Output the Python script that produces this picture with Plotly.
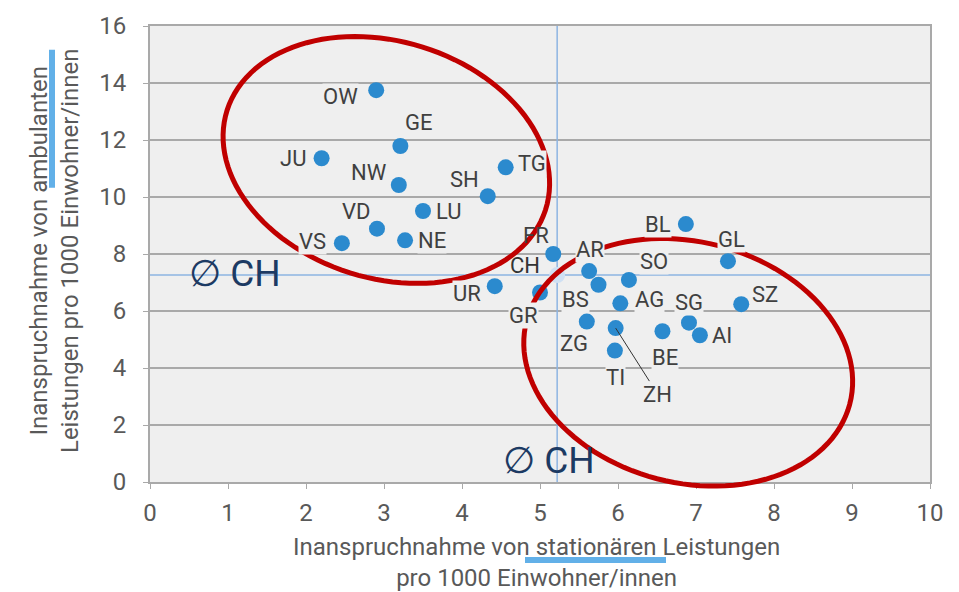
import math
import plotly.graph_objects as go

# ---------------- data ----------------
cantons = ["OW", "GE", "JU", "NW", "TG", "SH", "LU", "VD", "VS", "NE",
           "FR", "UR", "GR", "AR", "BS", "SO", "BL", "GL", "SZ", "AG",
           "SG", "AI", "BE", "ZH", "TI", "ZG"]
stationaer = [2.90, 3.21, 2.20, 3.19, 4.56, 4.33, 3.50, 2.91, 2.46, 3.27,
              5.17, 4.42, 5.00, 5.63, 5.75, 6.14, 6.87, 7.41, 7.58, 6.03,
              6.91, 7.05, 6.57, 5.97, 5.96, 5.60]
ambulant = [13.75, 11.79, 11.36, 10.42, 11.04, 10.03, 9.51, 8.89, 8.38, 8.48,
            8.00, 6.87, 6.65, 7.40, 6.92, 7.09, 9.05, 7.75, 6.24, 6.27,
            5.59, 5.15, 5.29, 5.40, 4.61, 5.63]
ch_label = "CH"
ch_stationaer = 5.22
ch_ambulant = 7.26

x_ticks = [0, 1, 2, 3, 4, 5, 6, 7, 8, 9, 10]
y_ticks = [0, 2, 4, 6, 8, 10, 12, 14, 16]

# label offsets in pixels (dx right, dy down)
label_offsets = {
    "OW": (-36, 6), "GE": (19, -23), "JU": (-29, 0), "NW": (-30, -13),
    "TG": (26, -4), "SH": (-23, -17), "LU": (26, 1), "VD": (-21, -17),
    "VS": (-29, -2), "NE": (27, 0), "FR": (-17, -19), "UR": (-28, 7),
    "GR": (-17, 23), "AR": (1, -22), "BS": (-23, 15), "SO": (25, -18),
    "BL": (-28, 0), "GL": (4, -22), "SZ": (24, -10), "AG": (29, -4),
    "SG": (0, -20), "AI": (22, 0), "BE": (3, 26), "ZH": (42, 66),
    "TI": (1, 27), "ZG": (-13, 22),
}
ch_offset = (-32, -10)

# ---------------- geometry / style ----------------
W, H = 959, 592
ML, MR, MT, MB = 150, 29, 20, 110
PW, PH = W - ML - MR, H - MT - MB
XR = [0, 10]
YR = [0, 16]

GRID = "#a9a9a9"
BG = "#efefef"
DOT = "#2b8ace"
MEANC = "#8db4e2"
TXT = "#404040"
AX = "#595959"
NAVY = "#1c3a63"
RED = "#c00000"
UL = "#62b0e8"
FONT = "Roboto"
LBL = 22


def to_paper_x(px):
    return (px - ML) / PW


def to_paper_y(py):
    return (MT + PH - py) / PH


def data_to_px(x, y):
    return ML + (x - XR[0]) / (XR[1] - XR[0]) * PW, MT + PH - (y - YR[0]) / (YR[1] - YR[0]) * PH


def ellipse_path(cx, cy, a, b, ang_deg, n=120):
    cpx, cpy = data_to_px(cx, cy)
    t = math.radians(ang_deg)
    pts = []
    for i in range(n + 1):
        s = 2 * math.pi * i / n
        ex, ey = a * math.cos(s), b * math.sin(s)
        px = cpx + ex * math.cos(t) - ey * math.sin(t)
        py = cpy + ex * math.sin(t) + ey * math.cos(t)
        pts.append((to_paper_x(px), to_paper_y(py)))
    return "M " + " L ".join(f"{x:.5f},{y:.5f}" for x, y in pts) + " Z"


fig = go.Figure()

# mean lines
fig.add_trace(go.Scatter(x=[ch_stationaer, ch_stationaer], y=YR, mode="lines",
                         line=dict(color=MEANC, width=1.5), hoverinfo="skip", showlegend=False))
fig.add_trace(go.Scatter(x=XR, y=[ch_ambulant, ch_ambulant], mode="lines",
                         line=dict(color=MEANC, width=1.5), hoverinfo="skip", showlegend=False))
# CH point
fig.add_trace(go.Scatter(x=[ch_stationaer], y=[ch_ambulant], mode="markers",
                         marker=dict(size=16, color="#cfe0f3"), showlegend=False))
# canton points
fig.add_trace(go.Scatter(x=stationaer, y=ambulant, mode="markers", text=cantons,
                         marker=dict(size=16, color=DOT), showlegend=False))

annotations = []
for name, xv, yv in zip(cantons, stationaer, ambulant):
    dx, dy = label_offsets[name]
    if name == "ZH":
        annotations.append(dict(x=xv, y=yv, xref="x", yref="y", text=name,
                                showarrow=True, arrowhead=0, arrowwidth=1, arrowcolor="#333333",
                                ax=dx, ay=dy, standoff=0, bgcolor=BG, borderpad=0,
                                font=dict(family=FONT, size=LBL, color=TXT)))
    else:
        annotations.append(dict(x=xv, y=yv, xref="x", yref="y", text=name, showarrow=False,
                                xshift=dx, yshift=-dy, xanchor="center", yanchor="middle",
                                bgcolor=None if name == "FR" else BG, borderpad=0,
                                font=dict(family=FONT, size=LBL, color=TXT)))
annotations.append(dict(x=ch_stationaer, y=ch_ambulant, xref="x", yref="y", text=ch_label,
                        showarrow=False, xshift=ch_offset[0], yshift=-ch_offset[1],
                        xanchor="center", yanchor="middle",
                        font=dict(family=FONT, size=LBL, color="#333333")))

# average markers
for cx, cy in [(235, 271), (549, 460)]:
    annotations.append(dict(x=to_paper_x(cx), y=to_paper_y(cy), xref="paper", yref="paper",
                            text="\u2205 CH", showarrow=False, xanchor="center", yanchor="middle",
                            font=dict(family=FONT, size=37, color=NAVY)))

# axis titles
annotations.append(dict(x=to_paper_x(536), y=to_paper_y(564), xref="paper", yref="paper",
                        xanchor="center", yanchor="middle",
                        text="Inanspruchnahme von stationären Leistungen<br>pro 1000 Einwohner/innen",
                        showarrow=False, font=dict(family=FONT, size=24, color=AX)))
annotations.append(dict(x=to_paper_x(54), y=to_paper_y(248), xref="paper", yref="paper",
                        xanchor="center", yanchor="middle",
                        text="Inanspruchnahme von ambulanten<br>Leistungen pro 1000 Einwohner/innen",
                        textangle=-90, showarrow=False, font=dict(family=FONT, size=24, color=AX)))

shapes = [
    dict(type="path", xref="paper", yref="paper", path=ellipse_path(3.03, 11.30, 167, 120, 17.6),
         line=dict(color=RED, width=5), layer="above"),
    dict(type="path", xref="paper", yref="paper", path=ellipse_path(6.90, 4.20, 167, 122, 14.8),
         line=dict(color=RED, width=5), layer="above"),
    dict(type="rect", xref="paper", yref="paper",
         x0=to_paper_x(525), x1=to_paper_x(666), y0=to_paper_y(564), y1=to_paper_y(558),
         fillcolor=UL, line=dict(width=0)),
    dict(type="rect", xref="paper", yref="paper",
         x0=to_paper_x(49), x1=to_paper_x(55), y0=to_paper_y(184), y1=to_paper_y(44),
         fillcolor=UL, line=dict(width=0)),
]

fig.update_layout(
    width=W, height=H,
    margin=dict(l=ML, r=MR, t=MT, b=MB),
    paper_bgcolor="white", plot_bgcolor=BG,
    annotations=annotations, shapes=shapes,
    showlegend=False,
    font=dict(family=FONT, color=AX),
)
fig.update_xaxes(range=XR, tickvals=x_ticks, ticktext=[str(v) for v in x_ticks],
                 showgrid=False, zeroline=False, showline=True, mirror=True,
                 linecolor=GRID, linewidth=2, ticks="outside", ticklen=5, tickcolor=GRID,
                 ticklabelstandoff=3,
                 tickfont=dict(family=FONT, size=24, color=AX), fixedrange=True)
fig.update_yaxes(range=YR, tickvals=y_ticks, ticktext=[str(v) for v in y_ticks],
                 showgrid=True, gridcolor=GRID, gridwidth=2, zeroline=False,
                 showline=True, mirror=True, linecolor=GRID, linewidth=2,
                 ticks="outside", ticklen=5, tickcolor=GRID, ticklabelstandoff=12,
                 tickfont=dict(family=FONT, size=24, color=AX), fixedrange=True)

fig.write_html("out.html", config={"displayModeBar": False},
               post_script="document.body.style.margin='0px';")
